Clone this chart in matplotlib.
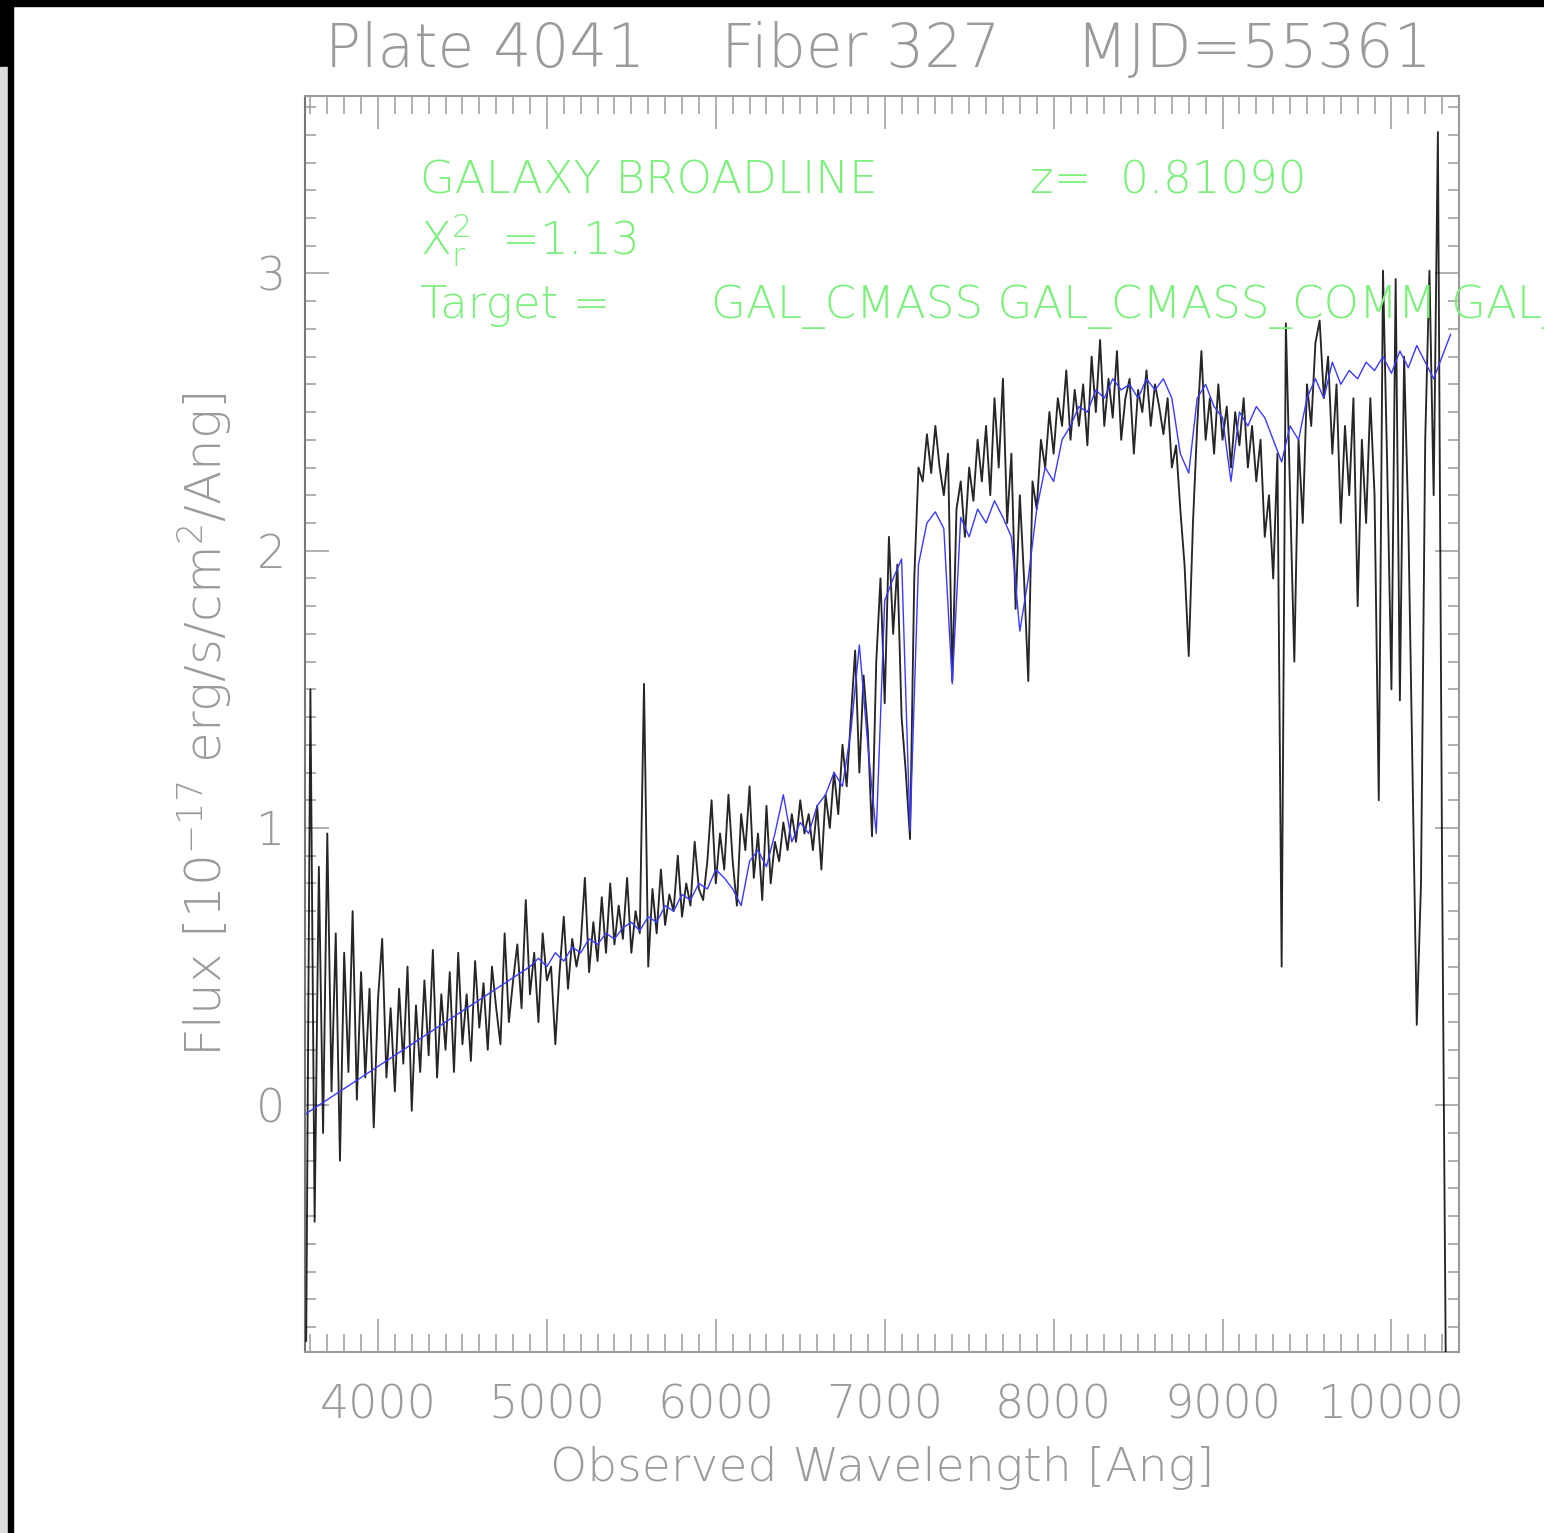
import numpy as np
import matplotlib
matplotlib.use("Agg")
import matplotlib.pyplot as plt
from matplotlib.patches import Rectangle
from matplotlib.ticker import MultipleLocator

# ---------------- data ----------------
# observed spectrum (black), 25 A grid starting at 3575 A
flux_start = 3575
flux_step = 25
flux = [
    -0.85, 1.50, -0.42, 0.86, -0.10, 0.98, 0.05, 0.62, -0.20, 0.55,
    0.12, 0.70, 0.02, 0.48, 0.10, 0.42, -0.08, 0.38, 0.60, 0.10,
    0.35, 0.05, 0.42, 0.15, 0.50, -0.02, 0.36, 0.12, 0.45, 0.18,
    0.56, 0.10, 0.40, 0.20, 0.48, 0.12, 0.55, 0.22, 0.40, 0.16,
    0.52, 0.28, 0.44, 0.20, 0.50, 0.35, 0.22, 0.62, 0.30, 0.45,
    0.58, 0.35, 0.74, 0.40, 0.55, 0.30, 0.62, 0.45, 0.50, 0.22,
    0.48, 0.68, 0.42, 0.60, 0.50, 0.58, 0.82, 0.48, 0.66, 0.52,
    0.75, 0.55, 0.80, 0.58, 0.72, 0.60, 0.82, 0.55, 0.70, 0.62,
    1.52, 0.50, 0.78, 0.62, 0.85, 0.65, 0.76, 0.70, 0.90, 0.68,
    0.80, 0.72, 0.95, 0.78, 0.74, 0.88, 1.10, 0.80, 0.98, 0.85,
    1.12, 0.88, 0.72, 1.05, 0.92, 1.15, 0.82, 0.98, 0.74, 1.08,
    0.80, 0.95, 0.88, 1.02, 0.92, 1.05, 0.95, 1.10, 0.98, 1.05,
    0.92, 1.08, 0.85, 1.12, 1.00, 1.20, 1.05, 1.30, 1.15, 1.40,
    1.64, 1.20, 1.55, 1.35, 0.97, 1.60, 1.90, 1.45, 2.05, 1.70,
    1.95, 1.40, 1.20, 0.96, 1.90, 2.30, 2.25, 2.42, 2.28, 2.45,
    2.30, 2.20, 2.35, 1.53, 2.15, 2.25, 2.05, 2.30, 2.18, 2.40,
    2.25, 2.45, 2.20, 2.55, 2.30, 2.62, 2.10, 2.35, 1.79, 2.20,
    1.90, 1.53, 2.25, 2.15, 2.40, 2.30, 2.50, 2.35, 2.55, 2.45,
    2.65, 2.40, 2.58, 2.45, 2.60, 2.38, 2.70, 2.50, 2.76, 2.45,
    2.62, 2.48, 2.72, 2.40, 2.55, 2.62, 2.35, 2.58, 2.50, 2.65,
    2.45, 2.60, 2.52, 2.42, 2.55, 2.30, 2.38, 2.15, 1.95, 1.62,
    2.10, 2.45, 2.72, 2.40, 2.55, 2.35, 2.60, 2.40, 2.52, 2.30,
    2.50, 2.38, 2.55, 2.30, 2.45, 2.25, 2.40, 2.05, 2.20, 1.90,
    2.35, 0.50, 2.82, 2.20, 1.60, 2.40, 2.10, 2.60, 2.45, 2.75,
    2.83, 2.55, 2.70, 2.35, 2.60, 2.10, 2.45, 2.20, 2.55, 1.80,
    2.40, 2.10, 2.55, 2.20, 1.10, 3.01, 2.30, 1.50, 2.98, 1.46,
    2.70, 2.10, 1.20, 0.29, 0.80, 2.40, 3.01, 2.20, 3.51, 0.85,
    -1.20, -1.50, -1.50,
]

# best-fit model (blue): first point, then a 50 A grid from 4850 A
model_first_wave = 3575
model_first_flux = -0.03
model_start = 4850
model_step = 50
model = [
    0.48, 0.50, 0.53, 0.50, 0.55, 0.52, 0.57, 0.55, 0.60, 0.58,
    0.62, 0.60, 0.64, 0.66, 0.63, 0.68, 0.66, 0.72, 0.70, 0.76,
    0.74, 0.80, 0.78, 0.85, 0.82, 0.78, 0.72, 0.88, 0.92, 0.86,
    0.98, 1.12, 0.95, 1.02, 0.98, 1.08, 1.12, 1.20, 1.15, 1.35,
    1.66, 1.30, 0.98, 1.82, 1.90, 1.97, 0.99, 1.95, 2.10, 2.14,
    2.08, 1.52, 2.12, 2.05, 2.15, 2.10, 2.18, 2.12, 2.05, 1.71,
    1.90, 2.15, 2.30, 2.25, 2.40, 2.45, 2.52, 2.50, 2.58, 2.55,
    2.62, 2.58, 2.60, 2.55, 2.62, 2.58, 2.62, 2.55, 2.35, 2.28,
    2.55, 2.60, 2.52, 2.48, 2.25, 2.50, 2.45, 2.52, 2.48, 2.40,
    2.32, 2.45, 2.40, 2.55, 2.62, 2.55, 2.68, 2.60, 2.65, 2.62,
    2.68, 2.65, 2.70, 2.64, 2.72, 2.66, 2.74, 2.68, 2.62, 2.70,
    2.78,
]

title = "Plate 4041    Fiber 327    MJD=55361"
xlabel = "Observed Wavelength [Ang]"
ylabel = r"Flux [10$^{-17}$ erg/s/cm$^2$/Ang]"
class_text = "GALAXY BROADLINE"
z_text = "z=  0.81090"
chi_text = r"X$_\mathrm{r}^2$  =1.13"
target_text = "Target =       GAL_CMASS GAL_CMASS_COMM GAL_CMASS_ALL"

# ---------------- plotting ----------------
W, H, DPI = 1544, 1533, 100
plt.rcParams['font.family'] = ['DejaVu Sans']
plt.rcParams['font.weight'] = 'light'
plt.rcParams['mathtext.fontset'] = 'dejavusans'
gray = '#9a9a9a'
green = '#7def7d'

fig = plt.figure(figsize=(W / DPI, H / DPI), dpi=DPI)
ax = fig.add_axes([305 / W, 1 - 1352 / H, (1459 - 305) / W, (1352 - 96) / H])

wave = flux_start + flux_step * np.arange(len(flux))
mwave = np.concatenate([[model_first_wave], model_start + model_step * np.arange(len(model))])
mflux = np.concatenate([[model_first_flux], model])

ax.plot(wave, flux, color='black', lw=1.35, alpha=0.85, zorder=3)
ax.plot(mwave, mflux, color='#3a3aff', lw=1.0, zorder=4)

ax.set_xlim(3568, 10400)
ax.set_ylim(-0.89, 3.64)

ax.xaxis.set_major_locator(MultipleLocator(1000))
ax.xaxis.set_minor_locator(MultipleLocator(100))
ax.yaxis.set_major_locator(MultipleLocator(1))
ax.yaxis.set_minor_locator(MultipleLocator(0.1))

fs = 33
ax.tick_params(axis='both', which='both', direction='in', top=True, right=True,
               color=gray, labelcolor=gray, width=1.1, labelsize=fs)
ax.tick_params(axis='x', which='major', length=24, pad=23)
ax.tick_params(axis='x', which='minor', length=13)
ax.tick_params(axis='y', which='major', length=17, pad=14)
ax.tick_params(axis='y', which='minor', length=8)
for s in ax.spines.values():
    s.set_color(gray)
    s.set_linewidth(1.5)
ax.spines['left'].set_color('#777777')

fig.text(882 / W, 1 - 1468 / H, xlabel, ha='center', va='center', color=gray, fontsize=34)
fig.text(205 / W, 1 - 725 / H, ylabel, ha='center', va='center', color=gray,
         fontsize=36, rotation=90)
fig.text(878 / W, 1 - 50 / H, title, ha='center', va='center', color=gray, fontsize=43)

gfs = 32.5
fig.text(420 / W, 1 - 193 / H, class_text, ha='left', va='baseline', color=green, fontsize=gfs)
fig.text(1030 / W, 1 - 193 / H, z_text, ha='left', va='baseline', color=green, fontsize=gfs)
fig.text(420 / W, 1 - 255 / H, chi_text, ha='left', va='baseline', color=green, fontsize=gfs)
fig.text(420 / W, 1 - 318 / H, target_text, ha='left', va='baseline', color=green, fontsize=gfs)

# screenshot frame (black edges at top and left)
fig.patches.append(Rectangle((0, 1 - 6 / H), 1, 6 / H, transform=fig.transFigure,
                             color='black', zorder=10))
fig.patches.append(Rectangle((0, 1 - 67 / H), 13 / W, 67 / H, transform=fig.transFigure,
                             color='black', zorder=10))
fig.patches.append(Rectangle((0, 0), 8 / W, 1 - 67 / H, transform=fig.transFigure,
                             color='#dcdcdc', zorder=10))
fig.patches.append(Rectangle((8 / W, 0), 5 / W, 1 - 67 / H, transform=fig.transFigure,
                             color='black', zorder=10))

fig.savefig('out.png', dpi=DPI)
